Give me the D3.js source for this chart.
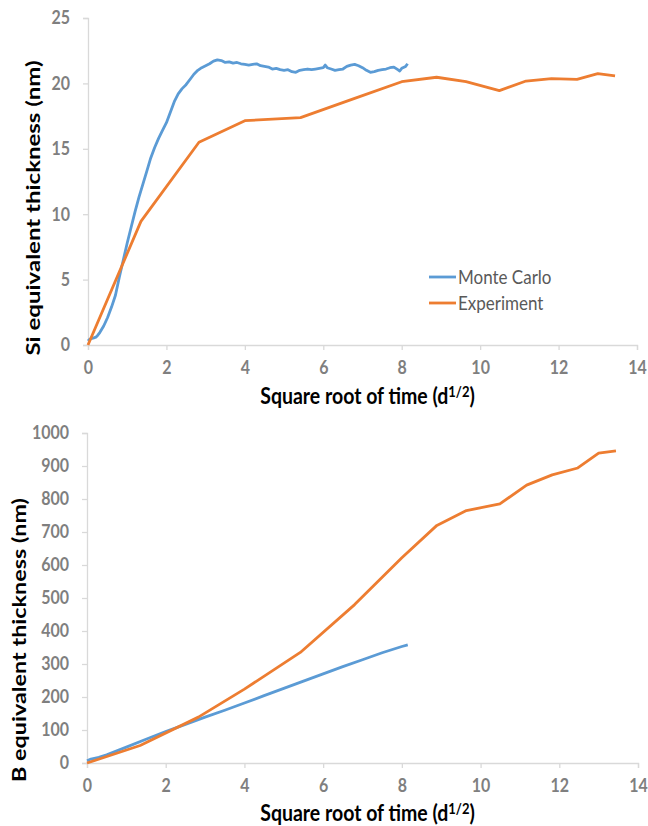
<!DOCTYPE html>
<html>
<head>
<meta charset="utf-8">
<script src="https://cdn.jsdelivr.net/npm/d3@7"></script>
<style>
  html, body { margin: 0; padding: 0; background: #fff; }
  svg { display: block; font-family: Lato, "Open Sans", sans-serif; }
</style>
</head>
<body>
<svg id="chart" width="648" height="826"></svg>
<script>
// Square root of time (d^1/2) at each experimental measurement
const expX = [0, 1.35, 2.83, 4.0, 5.42, 6.8, 8.0, 8.89, 9.64, 10.49, 11.17, 11.82, 12.47, 13.0, 13.44];
// Si equivalent thickness (nm), experiment
const expSi = [0, 9.45, 15.5, 17.15, 17.38, 18.85, 20.13, 20.47, 20.13, 19.45, 20.18, 20.36, 20.31, 20.74, 20.57];
// B equivalent thickness (nm), experiment
const expB = [0, 53, 139, 224, 335, 480, 622, 720, 765, 785, 842, 873, 894, 939, 946];

// Monte Carlo simulation, Si
const mcSiX = [0, 0.05, 0.1, 0.15, 0.2, 0.25, 0.3, 0.35, 0.4, 0.5, 0.6, 0.7, 0.8, 0.9, 1.0, 1.1, 1.2, 1.3, 1.4, 1.5,
  1.6, 1.7, 1.8, 1.9, 2.0, 2.1, 2.2, 2.3, 2.4, 2.5, 2.6, 2.7, 2.8, 2.9, 3.0, 3.1, 3.2, 3.3, 3.4, 3.5,
  3.6, 3.7, 3.8, 3.9, 4.0, 4.1, 4.2, 4.3, 4.4, 4.5, 4.6, 4.7, 4.8, 4.9, 5.0, 5.1, 5.2, 5.3, 5.4, 5.5,
  5.6, 5.7, 5.8, 5.9, 6.0, 6.05, 6.1, 6.2, 6.3, 6.4, 6.5, 6.6, 6.7, 6.8, 6.9, 7.0, 7.1, 7.2, 7.3, 7.4,
  7.5, 7.6, 7.7, 7.8, 7.9, 7.95, 8.0, 8.1, 8.15];
const mcSi = [0.30, 0.45, 0.50, 0.55, 0.60, 0.75, 0.95, 1.20, 1.45, 2.10, 2.90, 3.80, 5.20, 6.50, 7.80, 9.00, 10.20, 11.30, 12.30, 13.30,
  14.30, 15.10, 15.80, 16.40, 17.00, 17.80, 18.60, 19.20, 19.60, 19.90, 20.30, 20.70, 21.00, 21.20, 21.35, 21.50, 21.70, 21.80, 21.75, 21.60,
  21.65, 21.55, 21.60, 21.50, 21.45, 21.40, 21.45, 21.50, 21.35, 21.30, 21.25, 21.10, 21.15, 21.05, 21.00, 21.05, 20.90, 20.85, 21.00, 21.05,
  21.10, 21.05, 21.10, 21.15, 21.20, 21.40, 21.20, 21.10, 21.00, 21.05, 21.10, 21.30, 21.40, 21.45, 21.35, 21.20, 21.00, 20.85, 20.90, 21.00,
  21.05, 21.10, 21.20, 21.25, 21.05, 20.95, 21.15, 21.30, 21.50];

// Monte Carlo simulation, B
const mcBX = [0, 0.1, 0.3, 0.5, 1.0, 1.5, 2.0, 2.5, 3.0, 3.5, 4.0, 4.5, 5.0, 5.5, 6.0, 6.5, 7.0, 7.5, 8.0, 8.15];
const mcB = [7, 12, 17, 25, 48, 72, 95, 117, 139, 160, 182, 204, 226, 248, 270, 292, 313, 334, 353, 358];

const xTicks = [0, 2, 4, 6, 8, 10, 12, 14];
const siTicks = [0, 5, 10, 15, 20, 25];
const bTicks = [0, 100, 200, 300, 400, 500, 600, 700, 800, 900, 1000];

const BLUE = "#5B9BD5", ORANGE = "#ED7D31", AXIS = "#D9D9D9", TICK = "#7F7F7F";
// upright text is drawn slightly tall
const TALL = 1.15;

const svg = d3.select("#chart");

function panel(cfg) {
  const g = svg.append("g");
  const x = d3.scaleLinear().domain([0, 14]).range([cfg.left, cfg.right]);
  const y = d3.scaleLinear().domain([0, cfg.yMax]).range([cfg.bottom, cfg.top]);

  const xAxis = g.append("g").attr("transform", `translate(0,${cfg.bottom})`)
    .call(d3.axisBottom(x).tickValues(xTicks).tickSize(5).tickPadding(9).tickFormat(d3.format("d")));
  const yAxis = g.append("g").attr("transform", `translate(${cfg.left},0)`)
    .call(d3.axisLeft(y).tickValues(cfg.yTicks).tickSize(5).tickPadding(13).tickFormat(d3.format("d")));
  [xAxis, yAxis].forEach(a => {
    a.select(".domain").attr("stroke", AXIS).attr("stroke-width", 1.3);
    a.selectAll(".tick line").attr("stroke", AXIS).attr("stroke-width", 1.3);
    a.selectAll(".tick text").attr("fill", TICK).attr("font-size", 16)
      .attr("font-weight", "bold").attr("font-family", "Lato, 'Open Sans', sans-serif")
      .attr("transform", `scale(1,${TALL})`);
  });

  const line = d3.line().x(d => x(d[0])).y(d => y(d[1]));
  g.append("path").datum(d3.zip(cfg.mcX, cfg.mcY))
    .attr("fill", "none").attr("stroke", BLUE).attr("stroke-width", 2.8)
    .attr("stroke-linejoin", "round").attr("d", line);
  g.append("path").datum(d3.zip(expX, cfg.expY))
    .attr("fill", "none").attr("stroke", ORANGE).attr("stroke-width", 2.8)
    .attr("stroke-linejoin", "round").attr("d", line);

  // x axis title with superscript exponent
  const xt = g.append("text")
    .attr("transform", `translate(${(cfg.left + cfg.right) / 2 + 5},${cfg.xTitleY}) scale(1,${TALL})`)
    .attr("text-anchor", "middle").attr("font-size", 19.5).attr("font-weight", "bold").attr("fill", "#000");
  xt.append("tspan").text("Square root of time (d");
  xt.append("tspan").attr("dy", -6).attr("font-size", 13).text("1/2");
  xt.append("tspan").attr("dy", 6).text(")");

  g.append("text").attr("transform", `translate(${cfg.yTitleX},${cfg.yTitleY}) rotate(-90)`)
    .attr("text-anchor", "middle").attr("dominant-baseline", "central")
    .attr("font-size", 19.5).attr("font-weight", "bold").attr("fill", "#000")
    .attr("textLength", cfg.yTitleLen).attr("lengthAdjust", "spacingAndGlyphs")
    .text(cfg.yTitle);
  return { g, x, y };
}

const siPanel = panel({
  left: 88, right: 637, top: 18, bottom: 345, yMax: 25, yTicks: siTicks,
  mcX: mcSiX, mcY: mcSi, expY: expSi, xTitleY: 404,
  yTitle: "Si equivalent thickness (nm)", yTitleX: 32, yTitleY: 208, yTitleLen: 295
});

const bPanel = panel({
  left: 87, right: 638, top: 433, bottom: 763, yMax: 1000, yTicks: bTicks,
  mcX: mcBX, mcY: mcB, expY: expB, xTitleY: 821,
  yTitle: "B equivalent thickness (nm)", yTitleX: 18, yTitleY: 640, yTitleLen: 284
});

// legend
const legend = svg.append("g").attr("transform", "translate(429,277)");
[["Monte Carlo", BLUE], ["Experiment", ORANGE]].forEach(([name, color], i) => {
  const row = legend.append("g").attr("transform", `translate(0,${i * 26})`);
  row.append("line").attr("x1", 0).attr("x2", 27).attr("y1", 0).attr("y2", 0)
    .attr("stroke", color).attr("stroke-width", 2.8);
  row.append("text").attr("transform", `translate(29,0) scale(1,1.1)`)
    .attr("dominant-baseline", "central")
    .attr("font-size", 17).attr("fill", "#595959").text(name);
});
</script>
</body>
</html>
